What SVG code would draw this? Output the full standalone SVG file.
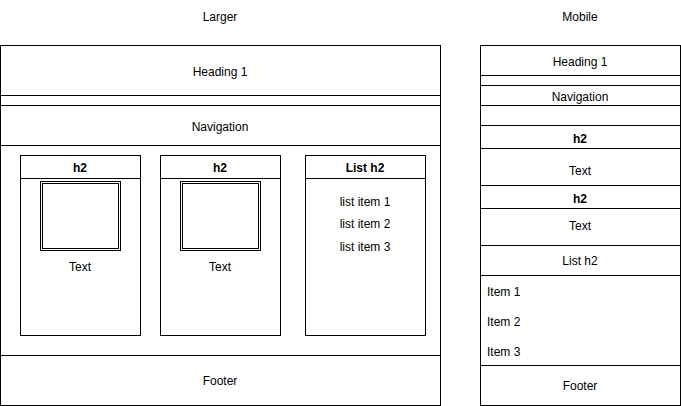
<svg xmlns="http://www.w3.org/2000/svg" width="681" height="406" viewBox="0 0 681 406">
<style>
.b{fill:#fff;stroke:#000;stroke-width:1}
.l{fill:none;stroke:#000;stroke-width:1}
text{font-family:"Liberation Sans",Arial,sans-serif;font-size:12px;fill:#000;dominant-baseline:central}
.c{text-anchor:middle}
.bold{font-weight:bold}
</style>
<rect width="681" height="406" fill="#fff"/>
<text id="title-larger" class="c" x="220" y="17">Larger</text>
<text id="title-mobile" class="c" x="580" y="17">Mobile</text>
<g id="larger">
<rect class="b" x="0.5" y="45.5" width="440" height="360"/>
<line class="l" x1="0.5" y1="95.5" x2="440.5" y2="95.5"/>
<line class="l" x1="0.5" y1="105.5" x2="440.5" y2="105.5"/>
<line class="l" x1="0.5" y1="145.5" x2="440.5" y2="145.5"/>
<line class="l" x1="0.5" y1="355.5" x2="440.5" y2="355.5"/>
<text class="c" x="220" y="72">Heading 1</text>
<text class="c" x="220" y="127">Navigation</text>
<text class="c" x="220" y="381">Footer</text>
</g>
<g id="card1">
<rect class="b" x="20.5" y="155.5" width="120" height="180"/>
<line class="l" x1="20.5" y1="178.5" x2="140.5" y2="178.5"/>
<text class="c bold" x="80" y="168">h2</text>
<rect class="b" x="40.5" y="181.5" width="80" height="69"/>
<rect class="l" x="42.5" y="183.5" width="76" height="65"/>
<text class="c" x="80" y="267">Text</text>
</g>
<g id="card2">
<rect class="b" x="160.5" y="155.5" width="120" height="180"/>
<line class="l" x1="160.5" y1="178.5" x2="280.5" y2="178.5"/>
<text class="c bold" x="220" y="168">h2</text>
<rect class="b" x="180.5" y="181.5" width="80" height="69"/>
<rect class="l" x="182.5" y="183.5" width="76" height="65"/>
<text class="c" x="220" y="267">Text</text>
</g>
<g id="card3">
<rect class="b" x="305.5" y="155.5" width="120" height="180"/>
<line class="l" x1="305.5" y1="178.5" x2="425.5" y2="178.5"/>
<text class="c bold" x="365" y="168">List h2</text>
<text class="c" x="365" y="201.5">list item 1</text>
<text class="c" x="365" y="224">list item 2</text>
<text class="c" x="365" y="246.5">list item 3</text>
</g>
<g id="mobile">
<rect class="b" x="480.5" y="45.5" width="200" height="360"/>
<line class="l" x1="480.5" y1="75.5" x2="680.5" y2="75.5"/>
<line class="l" x1="480.5" y1="85.5" x2="680.5" y2="85.5"/>
<line class="l" x1="480.5" y1="105.5" x2="680.5" y2="105.5"/>
<line class="l" x1="480.5" y1="125.5" x2="680.5" y2="125.5"/>
<line class="l" x1="480.5" y1="148.5" x2="680.5" y2="148.5"/>
<line class="l" x1="480.5" y1="185.5" x2="680.5" y2="185.5"/>
<line class="l" x1="480.5" y1="208.5" x2="680.5" y2="208.5"/>
<line class="l" x1="480.5" y1="245.5" x2="680.5" y2="245.5"/>
<line class="l" x1="480.5" y1="275.5" x2="680.5" y2="275.5"/>
<line class="l" x1="480.5" y1="365.5" x2="680.5" y2="365.5"/>
<text class="c" x="580" y="62">Heading 1</text>
<text class="c" x="580" y="97">Navigation</text>
<text class="c bold" x="580" y="139">h2</text>
<text class="c" x="580" y="171">Text</text>
<text class="c bold" x="580" y="199">h2</text>
<text class="c" x="580" y="226">Text</text>
<text class="c" x="580" y="261">List h2</text>
<text x="487" y="292">Item 1</text>
<text x="487" y="322">Item 2</text>
<text x="487" y="352">Item 3</text>
<text class="c" x="580" y="386">Footer</text>
</g>
<g id="connectors"/>
</svg>
